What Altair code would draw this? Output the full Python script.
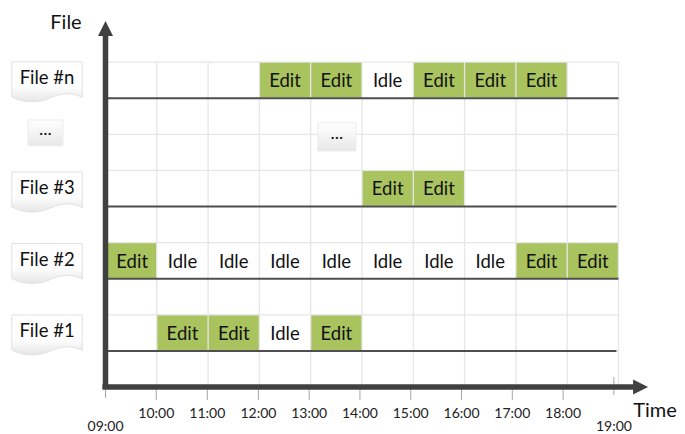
import altair as alt
import pandas as pd

FONT = "Lato"
PXW, PXH = 669, 426
X_DOM = [7.0994, 20.1404]
Y_DOM = [-1.302, 10.499]

# Activity cells per lane: file, start hour, end hour, state
cell_file = ["n","n","n","n","n","n","3","3","2","2","2","2","2","2","2","2","2","2","1","1","1","1"]
cell_start = [12,13,14,15,16,17,14,15,9.04,10,11,12,13,14,15,16,17,18,10,11,12,13]
cell_end = [13,14,15,16,17,18,15,16,10,11,12,13,14,15,16,17,18,19,11,12,13,14]
cell_state = ["Edit","Edit","Idle","Edit","Edit","Edit","Edit","Edit","Edit","Idle","Idle","Idle","Idle","Idle","Idle","Idle","Edit","Edit","Edit","Edit","Idle","Edit"]
lane_base = {"n": 8, "3": 5, "2": 3, "1": 1}

# Lanes
lane_y = [8, 5, 3, 1]
lane_start = [9.04, 9.04, 9.04, 9.04]
lane_end = [19, 18.96, 19, 18.96]

# Grid
grid_hours = [10, 11, 12, 13, 14, 15, 16, 17, 18, 19]
grid_levels = [1, 2, 3, 4, 5, 6, 7, 8, 9]

# Time ticks and labels
tick_hours = [9.0, 9.99, 10.985, 11.98, 12.97, 13.96, 14.95, 15.94, 16.93, 17.92, 18.91]
tick_top = [-0.08, 0, 0, 0, 0, 0, 0, 0, 0, 0, 0.28]
tick_bottom = [-0.3, -0.36, -0.36, -0.36, -0.36, -0.36, -0.36, -0.36, -0.36, -0.36, -0.22]
tick_text = ["09:00","10:00","11:00","12:00","13:00","14:00","15:00","16:00","17:00","18:00","19:00"]
tick_text_y = [-1.12,-0.75,-0.75,-0.75,-0.75,-0.75,-0.75,-0.75,-0.75,-0.75,-1.12]

# File labels
doc_text = ["File #n", "File #3", "File #2", "File #1"]
doc_x = [7.86] * 4
doc_y = [8.45, 5.4, 3.42, 1.44]

# Ellipsis buttons
btn_x = [7.83, 13.51]
btn_y = [7.04, 6.93]
btn_size = [1225, 1444]

# Axis titles
title_text = ["File", "Time"]
title_x = [8.23, 19.71]
title_y = [10.07, -0.67]

cells = pd.DataFrame({"file": cell_file, "start": cell_start, "end": cell_end, "state": cell_state})
cells["y1"] = cells["file"].map(lane_base)
cells["y2"] = cells["y1"] + 1
cells["xm"] = (cells["start"] + cells["end"]) / 2
cells["ym"] = (cells["y1"] + cells["y2"]) / 2


def xs(f="x"):
    return alt.X(f + ":Q", scale=alt.Scale(domain=X_DOM, nice=False, zero=False), axis=None)


def ys(f="y"):
    return alt.Y(f + ":Q", scale=alt.Scale(domain=Y_DOM, nice=False, zero=False), axis=None)


GRID = "#e6e6e6"
AXIS = "#404040"

rects = alt.Chart(cells).mark_rect(stroke=None).encode(
    x=xs("start"), x2="end:Q", y=ys("y1"), y2="y2:Q",
    color=alt.Color("state:N", scale=alt.Scale(domain=["Edit", "Idle"], range=["#a9c45e", "#ffffff"]), legend=None),
)

vgrid = alt.Chart(pd.DataFrame({"x": grid_hours, "y": [0]*10, "y2": [9]*10})).mark_rule(color=GRID, strokeWidth=1.3).encode(
    x=xs("x"), y=ys("y"), y2="y2:Q")
hgrid = alt.Chart(pd.DataFrame({"y": grid_levels, "x": [9.04]*9, "x2": [19]*9})).mark_rule(color=GRID, strokeWidth=1.3).encode(
    y=ys("y"), x=xs("x"), x2="x2:Q")
lanes = alt.Chart(pd.DataFrame({"y": lane_y, "x": lane_start, "x2": lane_end})).mark_rule(color="#4f4f4f", strokeWidth=2).encode(
    y=ys("y"), x=xs("x"), x2="x2:Q")

ticks = alt.Chart(pd.DataFrame({"x": tick_hours, "y": tick_top, "y2": tick_bottom})).mark_rule(color="#a6a6a6", strokeWidth=1).encode(
    x=xs("x"), y=ys("y"), y2="y2:Q")
tick_labels = alt.Chart(pd.DataFrame({"x": tick_hours, "y": tick_text_y, "t": tick_text})).mark_text(
    font=FONT, fontSize=14, color="#222222").encode(x=xs("x"), y=ys("y"), text="t:N")

y_axis = alt.Chart(pd.DataFrame({"x": [9.0], "y": [-0.03], "y2": [9.75]})).mark_rule(color=AXIS, strokeWidth=5.5).encode(
    x=xs("x"), y=ys("y"), y2="y2:Q")
x_axis = alt.Chart(pd.DataFrame({"y": [0.0], "x": [8.94], "x2": [19.4]})).mark_rule(color=AXIS, strokeWidth=5.5).encode(
    y=ys("y"), x=xs("x"), x2="x2:Q")
up = alt.Chart(pd.DataFrame({"x": [9.0], "y": [9.93]})).mark_point(
    shape="M0,-1L1,1L-1,1Z", size=225, fill=AXIS, stroke=None, filled=True, opacity=1).encode(x=xs("x"), y=ys("y"))
right = alt.Chart(pd.DataFrame({"x": [19.43], "y": [0.0]})).mark_point(
    shape="M1,0L-1,-1L-1,1Z", size=225, fill=AXIS, stroke=None, filled=True, opacity=1).encode(x=xs("x"), y=ys("y"))

grad = alt.Gradient(gradient="linear", x1=0, y1=0, x2=0, y2=1,
                    stops=[alt.GradientStop(color="#ffffff", offset=0), alt.GradientStop(color="#ffffff", offset=0.6), alt.GradientStop(color="#e6e6e6", offset=1)])
DOC = "M-1,-0.57L1,-0.57L1,0.44C0.75,0.3 0.45,0.3 0.15,0.43C-0.2,0.6 -0.65,0.62 -1,0.42Z"
docs_df = pd.DataFrame({"x": doc_x, "y": doc_y, "t": doc_text})
docs = alt.Chart(docs_df).mark_point(shape=DOC, size=4970, fill=grad, stroke="#e2e2e2", strokeWidth=1, filled=True, opacity=1).encode(
    x=xs("x"), y=ys("y"))
doc_labels = alt.Chart(docs_df).mark_text(font=FONT, fontSize=18.5, dy=-4, color="#111111").encode(x=xs("x"), y=ys("y"), text="t:N")

btn_df = pd.DataFrame({"x": btn_x, "y": btn_y, "s": btn_size, "t": ["...", "..."]})
btn_grad = alt.Gradient(gradient="linear", x1=0, y1=0, x2=0, y2=1,
                        stops=[alt.GradientStop(color="#ffffff", offset=0), alt.GradientStop(color="#e8e8e8", offset=1)])
BTN = "M-1,-0.74L1,-0.74L1,0.74L-1,0.74Z"
btns = alt.Chart(btn_df).mark_point(shape=BTN, fill=btn_grad, stroke="#ececec", strokeWidth=1, filled=True, opacity=1).encode(
    x=xs("x"), y=ys("y"), size=alt.Size("s:Q", scale=None, legend=None))
btn_labels = alt.Chart(btn_df).mark_text(font=FONT, fontSize=18, dy=-3, color="#111111").encode(x=xs("x"), y=ys("y"), text="t:N")

cell_labels = alt.Chart(cells).mark_text(font=FONT, fontSize=18.5, dy=1, color="#111111").encode(
    x=xs("xm"), y=ys("ym"), text="state:N")

titles = alt.Chart(pd.DataFrame({"x": title_x, "y": title_y, "t": title_text})).mark_text(
    font=FONT, fontSize=20, color="#111111").encode(x=xs("x"), y=ys("y"), text="t:N")

chart = alt.layer(rects, vgrid, hgrid, lanes, ticks, tick_labels, x_axis, y_axis, up, right,
                  docs, doc_labels, btns, btn_labels, cell_labels, titles).properties(
    width=PXW, height=PXH, padding=0, autosize=alt.AutoSizeParams(type="none"), background="white"
).configure_view(stroke=None)

chart.save("out.html", embed_options={"renderer": "svg", "actions": False})
